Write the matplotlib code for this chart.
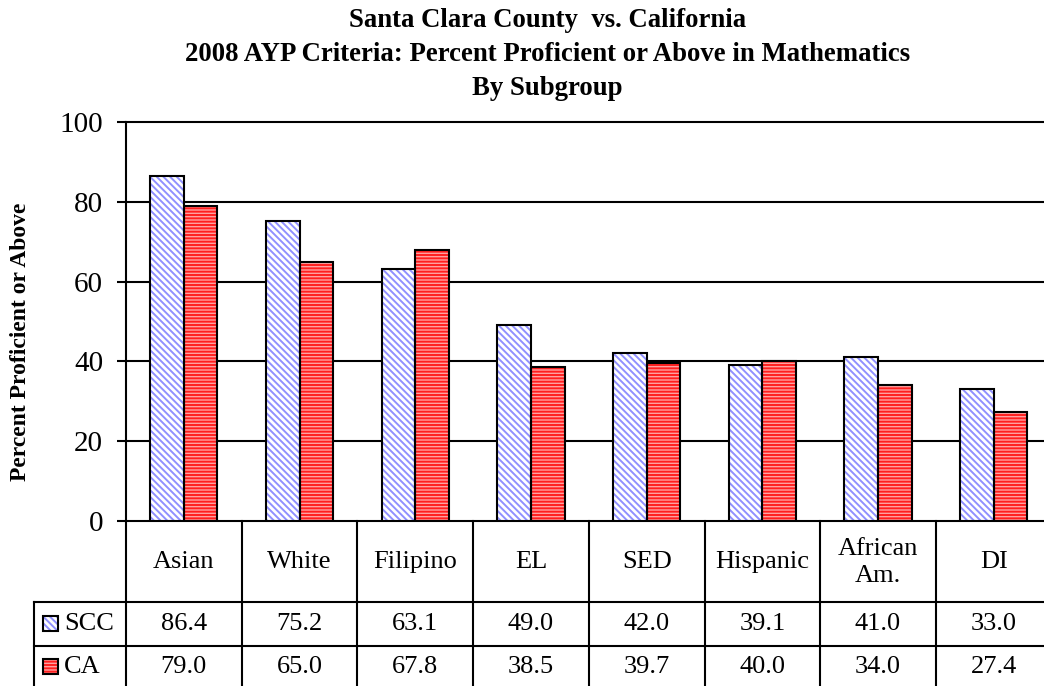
import matplotlib
matplotlib.use("Agg")
import matplotlib.pyplot as plt
import numpy as np
from matplotlib.patches import Rectangle

categories = ["Asian", "White", "Filipino", "EL", "SED", "Hispanic", "African\nAm.", "DI"]
scc = [86.4, 75.2, 63.1, 49.0, 42.0, 39.1, 41.0, 33.0]
ca = [79.0, 65.0, 67.8, 38.5, 39.7, 40.0, 34.0, 27.4]
series_names = ["SCC", "CA"]
yticks = [0, 20, 40, 60, 80, 100]
title_lines = ["Santa Clara County  vs. California",
               "2008 AYP Criteria: Percent Proficient or Above in Mathematics",
               "By Subgroup"]
ylabel = "Percent Proficient or Above"

plt.rcParams['font.family'] = ['Liberation Serif', 'DejaVu Serif']
plt.rcParams['hatch.linewidth'] = 1.4

W, H = 1044, 686
fig = plt.figure(figsize=(W / 100, H / 100), dpi=100)

def fx(px):
    return px / W

def fy(py):
    return 1 - py / H

ax_left, ax_top, ax_bottom = 126, 122, 521
col_w = 115.7
n = len(categories)
ax = fig.add_axes([fx(ax_left), fy(ax_bottom), fx(col_w * n), (ax_bottom - ax_top) / H])

x = np.arange(n)
bw = 0.29
scc_color = '#9090ff'
scc_hatch = '\\\\\\\\\\'
ca_face = '#ffa0a0'
ca_hatch_color = '#ff1f1f'
ca_hatch = '-----'

ax.bar(x - bw / 2, scc, bw, color='white', edgecolor=scc_color, hatch=scc_hatch, linewidth=0, zorder=3)
ax.bar(x + bw / 2, ca, bw, color=ca_face, edgecolor=ca_hatch_color, hatch=ca_hatch, linewidth=0, zorder=3)
ax.bar(x - bw / 2, scc, bw, fill=False, edgecolor='black', linewidth=1.5, zorder=4)
ax.bar(x + bw / 2, ca, bw, fill=False, edgecolor='black', linewidth=1.5, zorder=4)

ax.set_xlim(-0.5, n - 0.5)
ax.set_ylim(0, 100)
ax.set_yticks(yticks)
ax.set_yticklabels([str(t) for t in yticks], fontsize=21)
ax.set_xticks([])
ax.tick_params(axis='y', direction='out', length=6.5, width=1.5, pad=10)
for t in yticks:
    ax.axhline(t, color='black', linewidth=1.5, zorder=2, clip_on=False)
for s in ['top', 'right', 'bottom']:
    ax.spines[s].set_visible(False)
ax.spines['left'].set_linewidth(1.5)
ax.spines['left'].set_zorder(5)

# Table
lw = 1.5
row1, row2, row3, row_end = 521, 601.7, 645.7, 700
leg_left = 34
right = ax_left + col_w * n

def hline(y, x0, x1):
    fig.add_artist(plt.Line2D([fx(x0), fx(x1)], [fy(y), fy(y)], color='black', lw=lw))

def vline(xp, y0, y1):
    fig.add_artist(plt.Line2D([fx(xp), fx(xp)], [fy(y0), fy(y1)], color='black', lw=lw))

hline(row2, leg_left, right)
hline(row3, leg_left, right)
for k in range(n + 1):
    vline(ax_left + k * col_w, row1, row_end)
vline(leg_left, row2, row_end)

fs_tab = 19
y_scc = (row2 + row3) / 2
y_ca = row3 + 21
for k, cat in enumerate(categories):
    cx = ax_left + (k + 0.5) * col_w
    fig.text(fx(cx), fy((row1 + row2) / 2 + 1), cat, ha='center', va='center', fontsize=fs_tab, linespacing=1.3)
    fig.text(fx(cx), fy(y_scc), f"{scc[k]:.1f}", ha='center', va='center', fontsize=fs_tab)
    fig.text(fx(cx), fy(y_ca), f"{ca[k]:.1f}", ha='center', va='center', fontsize=fs_tab)

sw = 15
for yc, face, hc, hatch in [(y_scc, 'white', scc_color, scc_hatch),
                            (y_ca, ca_face, ca_hatch_color, ca_hatch)]:
    fig.add_artist(Rectangle((fx(43), fy(yc + sw / 2)), fx(sw), sw / H, facecolor=face,
                             edgecolor=hc, hatch=hatch, linewidth=0))
    fig.add_artist(Rectangle((fx(43), fy(yc + sw / 2)), fx(sw), sw / H, fill=False,
                             edgecolor='black', linewidth=1.5))
fig.text(fx(64), fy(y_scc), series_names[0], ha='left', va='center', fontsize=fs_tab)
fig.text(fx(64), fy(y_ca), series_names[1], ha='left', va='center', fontsize=fs_tab)

# titles
for i, line in enumerate(title_lines):
    fig.text(fx(547.5), fy(27 + 34 * i), line, ha='center', va='baseline',
             fontsize=19.3, fontweight='bold')
fig.text(fx(21), fy(342), ylabel, rotation=90, ha='center', va='center',
         fontsize=17, fontweight='bold')

fig.savefig("out.png", dpi=100)
